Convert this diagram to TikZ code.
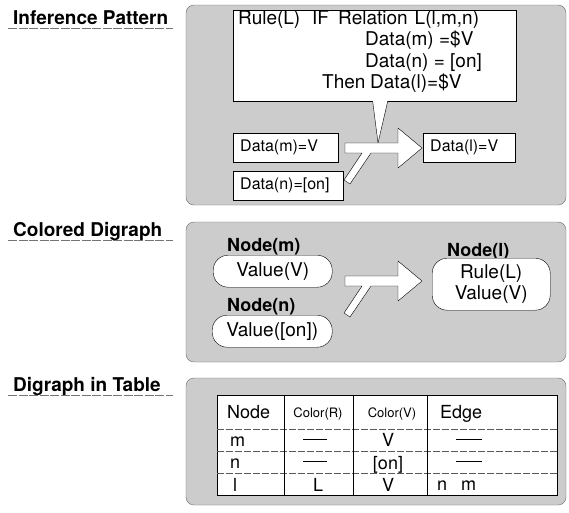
\documentclass[tikz,border=0pt]{standalone}
\usepackage{fontspec}
\setmainfont{TeX Gyre Heros}
\usetikzlibrary{positioning}

\newcommand\rulefont{\fontsize{19}{22}\selectfont}
\newcommand\datafont{\fontsize{16}{18}\selectfont}
\newcommand\tabfont{\fontsize{18}{20}\selectfont}
\newcommand\tinyfont{\fontsize{13}{14}\selectfont}
\newcommand\cellrule[1]{\rule[6pt]{#1pt}{0.6pt}}

\tikzset{
  panel/.style={draw=black!60, fill=black!20, rounded corners=8pt},
  heading/.style={anchor=base west, inner sep=0pt, font=\fontsize{19}{21}\selectfont\bfseries},
  headline/.style={draw=black!55, line width=0.8pt, dash pattern=on 9pt off 1.5pt},
  rulebox/.style={draw, fill=white, anchor=north west, inner sep=0pt},
  rtext/.style={anchor=base west, inner sep=0pt, font=\rulefont},
  databox/.style={draw, fill=white, anchor=north west, inner xsep=7pt, inner ysep=0pt,
    align=left, minimum height=29pt, font=\datafont},
  pill/.style={draw, fill=white, anchor=north west, inner sep=0pt, rounded corners=15pt,
    align=center, font=\rulefont},
  nodelabel/.style={anchor=base west, inner sep=0pt, font=\fontsize{18}{20}\selectfont\bfseries},
  cell/.style={anchor=base, inner sep=0pt, font=\tabfont},
  mergearrow/.pic={
    \draw[fill=white, line join=round] (0,0) -- (53,0) -- (53,-15) -- (77,5) -- (53,25)
      -- (53,10) -- (26,10) -- (5,41) -- (-1,37) -- (17,10) -- (0,10) -- cycle;
  }
}

\begin{document}
\begin{tikzpicture}[x=1pt, y=-1pt]
\useasboundingbox (0,0) rectangle (569,512);

\node[heading] (hinfer) at (13,24) {Inference Pattern};
\draw[headline] (8,28) -- (173,28);
\node[heading] (hcolor) at (13,236) {Colored Digraph};
\draw[headline] (8,240) -- (173,240);
\node[heading] (htable) at (13,391) {Digraph in Table};
\draw[headline] (8,395) -- (173,395);

\draw[panel] (186,5) rectangle (566,205);
\draw[panel] (186,222) rectangle (566,362);
\draw[panel] (186,378) rectangle (566,505);

\node[rulebox, minimum width=283pt, minimum height=91pt] (rule) at (233,10) {};
\node[rtext] (rname) at (238,24) {Rule(L)};
\node[rtext] (rif) at (312,24) {IF};
\node[rtext] (rrel) at (338,24) {Relation\hspace{7pt}L(l,m,n)};
\node[rtext] (rcm) at (365,45) {Data(m) =\$V};
\node[rtext] (rcn) at (365,67) {Data(n) = [on]};
\node[rtext] (rthen) at (322,88) {Then};
\node[rtext] (rres) at (370,88) {Data(l)=\$V};

\coordinate (ptip) at (378,143);
\fill[white] ([xshift=-2pt,yshift=1pt]rule.south) -- (ptip) -- ([xshift=13pt,yshift=1pt]rule.south) -- cycle;
\draw ([xshift=-2pt]rule.south) -- (ptip) -- ([xshift=13pt]rule.south);

\node[databox, text width=91pt] (dm) at (233,133) {Data(m)=V};
\node[databox, text width=96pt] (dn) at (233,171) {Data(n)=[on]};
\node[databox, text width=78pt] (dl) at (423,133) {Data(l)=V};
\pic at (345,143) {mergearrow};

\node[nodelabel] (lm) at (227,251) {Node(m)};
\node[pill, minimum width=119pt, minimum height=32pt] (vm) at (213,255) {Value(V)};
\node[nodelabel] (ln) at (227,311) {Node(n)};
\node[pill, minimum width=120pt, minimum height=32pt] (vn) at (212,315) {Value([on])};
\node[nodelabel] (ll) at (447,256) {Node(l)};
\node[pill, minimum width=118pt, minimum height=52pt] (vl) at (432,258) {Rule(L)\\[-1pt]Value(V)};
\pic at (345,276) {mergearrow};

\draw[fill=white] (217,395) rectangle (557,495);
\foreach \y in {429,451,473}
  \draw[black!65, dash pattern=on 7pt off 2pt] (217,\y) -- (557,\y);
\foreach \x in {284,353,427}
  \draw (\x,395) -- (\x,495);

\node[anchor=base west, inner sep=0pt, font=\tabfont] (cnode) at (227,418) {Node};
\node[cell, font=\tinyfont] (ccr) at (318,417) {Color(R)};
\node[cell, font=\tinyfont] (ccv) at (392,417) {Color(V)};
\node[anchor=base west, inner sep=0pt, font=\tabfont] (cedge) at (440,418) {Edge};

\node[anchor=base west, inner sep=0pt, font=\tabfont] (rm) at (230,446) {m};
\node[cell] (rmr) at (315,446) {\cellrule{24}};
\node[cell] (rmv) at (388,446) {V};
\node[cell] (rme) at (469,446) {\cellrule{26}};

\node[anchor=base west, inner sep=0pt, font=\tabfont] (rn) at (230,468) {n};
\node[cell] (rnr) at (315,468) {\cellrule{24}};
\node[cell] (rnv) at (388,469) {[on]};
\node[cell] (rne) at (469,468) {\cellrule{26}};

\node[anchor=base west, inner sep=0pt, font=\tabfont] (rl) at (233,491) {l};
\node[cell] (rlr) at (318,491) {L};
\node[cell] (rlv) at (388,491) {V};
\node[anchor=base west, inner sep=0pt, font=\tabfont] (rle) at (437,490) {n\hspace{14pt}m};
\end{tikzpicture}
\end{document}
